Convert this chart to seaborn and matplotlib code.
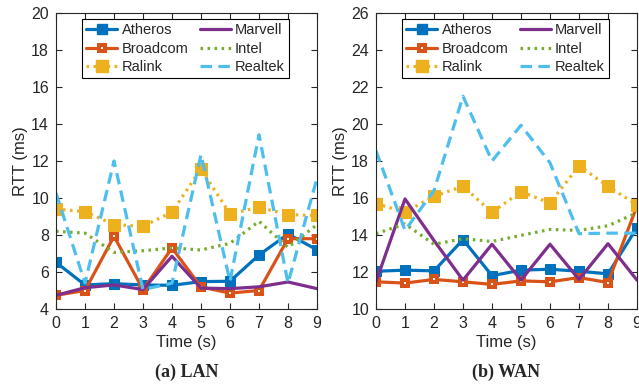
import matplotlib
matplotlib.use("Agg")
import matplotlib.pyplot as plt
import seaborn as sns
import numpy as np
from matplotlib.lines import Line2D

time = list(range(10))
series_names = ["Atheros", "Broadcom", "Ralink", "Marvell", "Intel", "Realtek"]

lan_atheros = [6.52, 5.3, 5.37, 5.3, 5.28, 5.48, 5.5, 6.92, 8.05, 7.2]
lan_broadcom = [4.74, 5.0, 7.93, 5.05, 7.3, 5.19, 4.86, 5.0, 7.8, 7.8]
lan_ralink = [9.4, 9.26, 8.56, 8.47, 9.24, 11.57, 9.14, 9.5, 9.1, 9.06]
lan_marvell = [4.74, 5.15, 5.3, 5.05, 6.85, 5.13, 5.1, 5.2, 5.46, 5.1]
lan_intel = [8.2, 8.1, 7.06, 7.15, 7.3, 7.19, 7.55, 8.74, 7.33, 8.56]
lan_realtek = [10.27, 5.4, 12.0, 5.05, 5.4, 12.34, 5.5, 13.42, 5.4, 11.07]

wan_atheros = [12.04, 12.1, 12.06, 13.75, 11.8, 12.1, 12.15, 12.04, 11.9, 14.4]
wan_broadcom = [11.47, 11.4, 11.6, 11.47, 11.33, 11.52, 11.47, 11.7, 11.43, 15.57]
wan_ralink = [15.7, 15.23, 16.1, 16.63, 15.23, 16.34, 15.73, 17.74, 16.63, 15.63]
wan_marvell = [11.47, 15.95, 13.7, 11.56, 13.5, 11.56, 13.5, 11.6, 13.53, 11.56]
wan_intel = [14.07, 14.6, 13.5, 13.8, 13.65, 13.98, 14.3, 14.25, 14.5, 15.2]
wan_realtek = [18.55, 14.25, 16.4, 21.5, 18.0, 19.93, 17.9, 14.07, 14.1, 14.1]

lan_ylim = (4, 20)
wan_ylim = (10, 26)
captions = ["(a) LAN", "(b) WAN"]

colors = {"Atheros": "#0072BD", "Broadcom": "#D95319", "Ralink": "#EDB120",
          "Marvell": "#7E2F8E", "Intel": "#77AC30", "Realtek": "#4DBEEE"}
LW = 2.3
styles = {
    "Atheros": dict(linestyle="-", marker="s", markersize=7.6, markerfacecolor=colors["Atheros"],
                    markeredgecolor=colors["Atheros"]),
    "Broadcom": dict(linestyle="-", marker="s", markersize=5.0, markerfacecolor="white",
                     markeredgecolor=colors["Broadcom"], markeredgewidth=2.9),
    "Ralink": dict(linestyle=(0, (0.8, 1.4)), marker="s", markersize=8.6,
                   markerfacecolor=colors["Ralink"], markeredgecolor=colors["Ralink"]),
    "Marvell": dict(linestyle="-"),
    "Intel": dict(linestyle=(0, (0.8, 1.4))),
    "Realtek": dict(linestyle=(0, (3.6, 2.0))),
}

sns.set_style("ticks")
plt.rcParams["font.family"] = ["Liberation Sans", "DejaVu Sans"]

fig = plt.figure(figsize=(6.39, 3.86), dpi=100)
ax1 = fig.add_axes([56 / 639, 1 - 309 / 386, 261 / 639, 296 / 386])
ax2 = fig.add_axes([376 / 639, 1 - 309 / 386, 261 / 639, 296 / 386])

datasets = [
    (ax1, [lan_atheros, lan_broadcom, lan_ralink, lan_marvell, lan_intel, lan_realtek], lan_ylim),
    (ax2, [wan_atheros, wan_broadcom, wan_ralink, wan_marvell, wan_intel, wan_realtek], wan_ylim),
]

draw_order = ["Atheros", "Broadcom", "Ralink", "Marvell", "Intel", "Realtek"]

gray = "#262626"
for idx, (ax, vals, ylim) in enumerate(datasets):
    val_map = dict(zip(series_names, vals))
    for name in draw_order:
        sns.lineplot(x=time, y=val_map[name], ax=ax, color=colors[name], linewidth=LW,
                     **styles[name])
    ax.set_xlim(0, 9)
    ax.set_ylim(*ylim)
    ax.set_xticks(time)
    ax.set_yticks(np.arange(ylim[0], ylim[1] + 1, 2))
    ax.tick_params(direction="in", top=True, right=True, length=4, width=0.8,
                   labelsize=11.5, colors=gray, pad=5)
    for sp in ax.spines.values():
        sp.set_visible(True)
        sp.set_color(gray)
        sp.set_linewidth(0.8)
    ax.set_xlabel("Time (s)", fontsize=12, color=gray, labelpad=3)
    ax.set_ylabel("RTT (ms)", fontsize=12, color=gray, labelpad=2)
    handles = []
    for name in series_names:
        st = dict(styles[name])
        handles.append(Line2D([], [], color=colors[name], linewidth=LW, **st))
    leg = ax.legend(handles, series_names, ncol=2, loc="upper left",
                    bbox_to_anchor=(0.1, 0.98), fontsize=10.5, frameon=True,
                    fancybox=False, edgecolor="black", framealpha=1,
                    handlelength=2.1, handletextpad=0.3, columnspacing=0.8,
                    labelspacing=0.3, borderpad=0.3, borderaxespad=0.0)
    leg.get_frame().set_linewidth(0.8)
    for t in leg.get_texts():
        t.set_color(gray)
    cx = (ax.get_position().x0 + ax.get_position().x1) / 2
    fig.text(cx, 1 - 372 / 386, captions[idx], ha="center", va="center",
             fontsize=13, fontweight="bold", family=["Liberation Serif", "DejaVu Serif"])

fig.savefig("out.png", dpi=100)
